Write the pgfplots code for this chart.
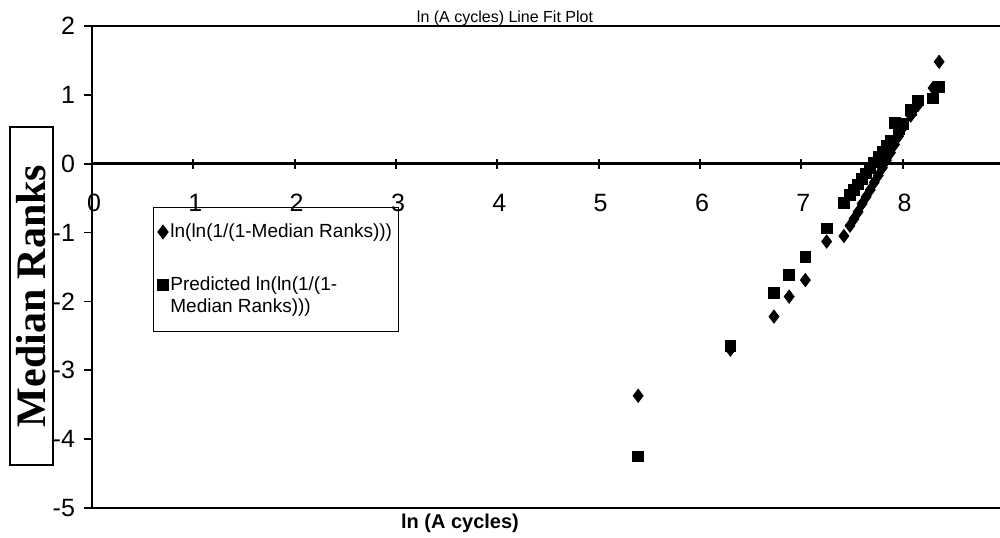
\documentclass[border=0pt]{standalone}
\usepackage{pgfplots}
\pgfplotsset{compat=1.18}
\usepackage{pgfplotstable}
\usepackage{fontspec}
\setmainfont{Liberation Sans}
\newfontfamily\serifbold{Liberation Serif}
\pgfplotstableread{
x y
5.39 -3.37
6.30 -2.70
6.73 -2.22
6.88 -1.93
7.04 -1.69
7.25 -1.13
7.42 -1.05
7.48 -0.90
7.52 -0.80
7.56 -0.70
7.60 -0.58
7.64 -0.48
7.68 -0.38
7.72 -0.27
7.76 -0.17
7.80 -0.06
7.84 0.05
7.88 0.16
7.92 0.28
7.96 0.40
8.00 0.52
8.08 0.70
8.15 0.85
8.30 1.10
8.36 1.48
}\observed
\pgfplotstableread{
x y
5.39 -4.25
6.30 -2.65
6.73 -1.88
6.88 -1.62
7.04 -1.35
7.25 -0.94
7.42 -0.57
7.48 -0.45
7.52 -0.38
7.56 -0.30
7.60 -0.22
7.64 -0.14
7.68 -0.06
7.72 0.02
7.76 0.10
7.80 0.18
7.84 0.26
7.88 0.34
7.92 0.59
7.96 0.50
8.00 0.58
8.08 0.78
8.15 0.92
8.30 0.95
8.36 1.12
}\predicted
\pgfplotsset{
  legmarkA/.style={legend image code/.code={\draw[##1] plot coordinates {(0.12cm,0cm)};}},
  legmarkB/.style={legend image code/.code={\draw[##1, yshift=5.5pt] plot coordinates {(0.12cm,0cm)};}},
}
\begin{document}
\begin{tikzpicture}
\useasboundingbox (-46pt,-14.5pt) rectangle (454pt,254pt);
\begin{axis}[
  at={(0,0)}, anchor=south west,
  scale only axis, width=456pt, height=241pt,
  xmin=0, xmax=9, ymin=-5, ymax=2,
  axis line style={line width=1pt},
  xtick=\empty,
  ytick={-5,...,2},
  ytick pos=left, tick align=outside,
  major tick length=4pt,
  tick style={line width=0.9pt, black},
  /pgf/number format/assume math mode=true,
  yticklabel style={font=\fontsize{12.5}{14}\selectfont, xshift=-1pt},
  legend style={at={(30.5pt,150.5pt)}, anchor=north west, draw=black, line width=0.6pt,
    font=\fontsize{9.5}{11}\selectfont, nodes={inner sep=1pt, align=left},
    row sep=16pt, inner xsep=2pt, inner ysep=7pt},
  legend cell align=left,
  clip=false,
]
\addplot[only marks, mark=diamond*, mark size=3.3pt, black, legmarkA] table[x=x,y=y] {\observed};
\addlegendentry{ln(ln(1/(1-Median Ranks)))}
\addplot[only marks, mark=square*, mark size=2.7pt, black, legmarkB] table[x=x,y=y] {\predicted};
\addlegendentry{Predicted ln(ln(1/(1-\\Median Ranks)))}
\end{axis}
\begin{axis}[
  at={(0,0)}, anchor=south west,
  scale only axis, width=456pt, height=241pt,
  xmin=0, xmax=9, ymin=-5, ymax=2,
  axis x line*=middle, axis y line=none,
  axis line style={line width=1.3pt},
  xtick={0,...,9},
  hide obscured x ticks=false,
  major tick length=5pt, tick align=center,
  tick style={line width=1pt, black},
  /pgf/number format/assume math mode=true,
  xticklabel style={font=\fontsize{12.5}{14}\selectfont, anchor=center, yshift=-17pt, xshift=1pt},
]
\addplot[draw=none] coordinates {(0,0)};
\end{axis}
\node[font=\fontsize{8}{9}\selectfont, anchor=base] at (206.5pt,243pt) {ln (A cycles) Line Fit Plot};
\node[font=\bfseries\fontsize{10}{12}\selectfont, anchor=center] at (184pt,-7.5pt) {ln (A cycles)};
\node[draw, line width=0.7pt, rotate=90, minimum width=169pt, minimum height=21.5pt, inner sep=0pt,
  font=\serifbold\bfseries\fontsize{21}{22}\selectfont] at (-30.25pt,106pt) {Median Ranks};
\end{tikzpicture}
\end{document}
